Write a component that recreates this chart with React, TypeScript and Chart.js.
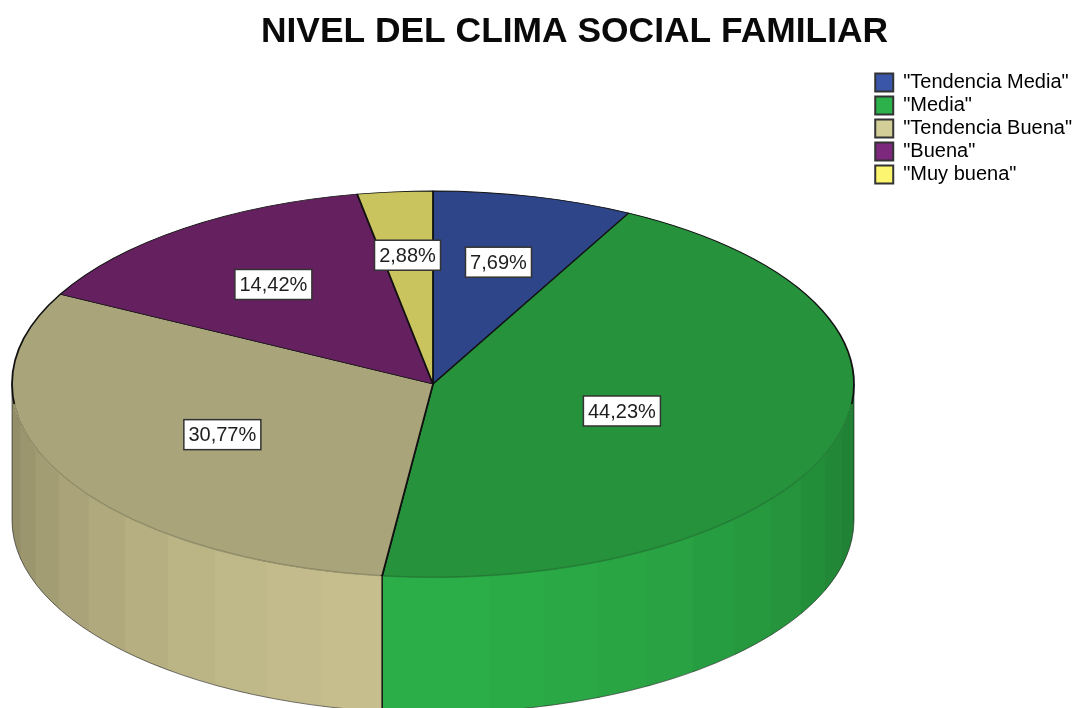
import React, { useEffect, useRef } from "react";
import { Chart, registerables } from "chart.js";

Chart.register(...registerables);

const titleText = "NIVEL DEL CLIMA SOCIAL FAMILIAR";
const categories = ['"Tendencia Media"', '"Media"', '"Tendencia Buena"', '"Buena"', '"Muy buena"'];
const percentages = [7.69, 44.23, 30.77, 14.42, 2.88];
const topColors = ["#2F4589", "#26923C", "#A9A47A", "#64205F", "#CAC45F"];
const legendColors = ["#3A56A8", "#2DB14A", "#D3CE97", "#7C287C", "#FBF56F"];
const sideColors = ["#3853A2", "#2BAD47", "#C8C08E", "#782678", "#F0EA6A"];
const labelRadii = [0.65, 0.47, 0.565, 0.64, 0.67];

const FONT = '"Liberation Sans", Arial, sans-serif';
const CENTER_X = 433;
const CENTER_Y = 384;
const RADIUS_X = 421;
const RADIUS_Y = 193;
const DEPTH = 136;
const BAND_START_DEG = 6.9;
const BAND_STEP_RIGHT = 7.6;
const BAND_STEP_LEFT = 7.9;
const RIM_INSET = 0.1;

function shade(hex: string, f: number) {
  const n = parseInt(hex.slice(1), 16);
  const c = [(n >> 16) & 255, (n >> 8) & 255, n & 255].map((v) => Math.round(v * f));
  return `rgb(${c[0]},${c[1]},${c[2]})`;
}

const px = (a: number) => CENTER_X + RADIUS_X * Math.cos(a);
const py = (a: number) => CENTER_Y + RADIUS_Y * Math.sin(a);

const pie3d = {
  id: "pie3d",
  beforeDatasetsDraw(chart: any) {
    const ctx = chart.ctx;
    const arcs = chart.getDatasetMeta(0).data;
    ctx.save();
    arcs.forEach((el: any, i: number) => {
      const s = Math.max(el.startAngle, 0);
      const e = Math.min(el.endAngle, Math.PI);
      if (e <= s) return;
      const stops = [s];
      for (let k = -12; k <= 12; k++) {
        const off = BAND_START_DEG + (k < 0 ? BAND_STEP_RIGHT : BAND_STEP_LEFT) * k;
        const a = Math.PI / 2 + (off * Math.PI) / 180;
        if (a > s && a < e) stops.push(a);
      }
      stops.push(e);
      stops.sort((p, q) => p - q);
      for (let b = stops.length - 2; b >= 0; b--) {
        const a0 = stops[b];
        const a1 = stops[b + 1];
        const t = Math.abs((a0 + a1) / 2 - Math.PI / 2) / (Math.PI / 2);
        const f = 1 - 0.3 * Math.pow(t, 1.6);
        const a2 = Math.min(a1 + 0.01, e);
        ctx.beginPath();
        ctx.ellipse(CENTER_X, CENTER_Y, RADIUS_X, RADIUS_Y, 0, a0, a2);
        ctx.ellipse(CENTER_X, CENTER_Y + DEPTH, RADIUS_X, RADIUS_Y, 0, a2, a0, true);
        ctx.closePath();
        ctx.fillStyle = shade(sideColors[i], f);
        ctx.fill();
      }
    });
    // silhouette of the wall
    ctx.beginPath();
    ctx.moveTo(px(0), py(0));
    ctx.ellipse(CENTER_X, CENTER_Y + DEPTH, RADIUS_X, RADIUS_Y, 0, 0, Math.PI);
    ctx.lineTo(px(Math.PI), py(Math.PI));
    ctx.strokeStyle = "rgba(30,30,30,0.6)";
    ctx.lineWidth = 1;
    ctx.stroke();
    // seams between slices on the wall
    arcs.forEach((el: any) => {
      const a = el.endAngle;
      if (a > 0 && a < Math.PI) {
        ctx.beginPath();
        ctx.moveTo(px(a), py(a));
        ctx.lineTo(px(a), py(a) + DEPTH);
        ctx.strokeStyle = "#1c1c14";
        ctx.lineWidth = 1.6;
        ctx.stroke();
      }
    });
    ctx.restore();
    // squash the round pie of the library into the tilted top face
    const first = arcs[0];
    ctx.save();
    ctx.translate(CENTER_X, CENTER_Y);
    ctx.scale(1, RADIUS_Y / RADIUS_X);
    ctx.translate(-first.x, -first.y);
  },
  afterDatasetsDraw(chart: any) {
    const ctx = chart.ctx;
    ctx.restore();
    const arcs = chart.getDatasetMeta(0).data;
    ctx.save();
    // front rim of the top face is only a faint line
    arcs.forEach((el: any, i: number) => {
      const s = Math.max(el.startAngle, RIM_INSET);
      const e = Math.min(el.endAngle, Math.PI - RIM_INSET);
      if (e <= s) return;
      ctx.beginPath();
      ctx.ellipse(CENTER_X, CENTER_Y, RADIUS_X, RADIUS_Y, 0, s + 0.004, e - 0.004);
      ctx.strokeStyle = topColors[i];
      ctx.lineWidth = 2.2;
      ctx.stroke();
      ctx.strokeStyle = "rgba(30,30,30,0.28)";
      ctx.lineWidth = 0.8;
      ctx.stroke();
    });
    // value labels
    ctx.font = `20px ${FONT}`;
    ctx.textAlign = "center";
    ctx.textBaseline = "middle";
    arcs.forEach((el: any, i: number) => {
      const mid = (el.startAngle + el.endAngle) / 2;
      const x = CENTER_X + RADIUS_X * labelRadii[i] * Math.cos(mid);
      const y = CENTER_Y + RADIUS_Y * labelRadii[i] * Math.sin(mid);
      const text = percentages[i].toFixed(2).replace(".", ",") + "%";
      const w = Math.round(ctx.measureText(text).width) + 9;
      const h = 30;
      ctx.fillStyle = "#ffffff";
      ctx.fillRect(x - w / 2, y - h / 2, w, h);
      ctx.strokeStyle = "#333333";
      ctx.lineWidth = 1.5;
      ctx.strokeRect(x - w / 2, y - h / 2, w, h);
      ctx.fillStyle = "#1e1e1e";
      ctx.fillText(text, x, y + 1);
    });
    ctx.restore();
  },
};

export default function App() {
  const ref = useRef<HTMLCanvasElement>(null);
  useEffect(() => {
    const chart = new Chart(ref.current as HTMLCanvasElement, {
      type: "pie",
      data: {
        labels: categories,
        datasets: [
          {
            data: percentages,
            backgroundColor: topColors,
            borderColor: "#111111",
            borderWidth: 1.8,
            radius: RADIUS_X,
            clip: false,
          } as any,
        ],
      },
      options: {
        responsive: false,
        animation: false,
        layout: { padding: { left: 67, right: -10, top: 0, bottom: 0 } },
        plugins: {
          tooltip: { enabled: false },
          title: {
            display: true,
            text: titleText,
            color: "#0a0a0a",
            font: { family: FONT, size: 35.4, weight: "bold" },
            padding: { top: 11, bottom: 16 },
          },
          legend: {
            position: "right",
            align: "start",
            fullSize: false,
            labels: {
              boxWidth: 18,
              boxHeight: 18,
              padding: 3,
              color: "#222222",
              font: { family: FONT, size: 20, lineHeight: 1 },
              generateLabels: () =>
                categories.map((text, i) => ({
                  text,
                  fillStyle: legendColors[i],
                  strokeStyle: "#333333",
                  lineWidth: 2,
                  index: i,
                  hidden: false,
                })),
            },
          },
        },
      },
      plugins: [pie3d],
    } as any);
    return () => chart.destroy();
  }, []);
  return (
    <canvas
      ref={ref}
      width={1072}
      height={708}
      style={{ position: "absolute", left: 0, top: 0, display: "block", filter: "blur(0.4px)" }}
    />
  );
}
